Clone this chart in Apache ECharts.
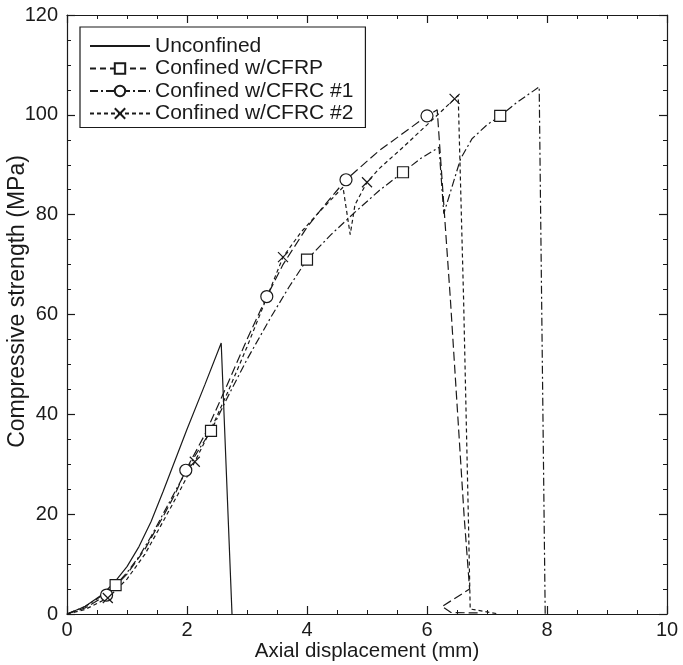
<!DOCTYPE html>
<html>
<head>
<meta charset="utf-8">
<script src="https://cdn.jsdelivr.net/npm/echarts@6/dist/echarts.min.js"></script>
<style>
html,body{margin:0;padding:0;background:#fff;}
#c{width:683px;height:665px;}
</style>
</head>
<body>
<div id="c"></div>
<script>
// ---- Data ----
const seriesNames = ['Unconfined', 'Confined w/CFRP', 'Confined w/CFRC #1', 'Confined w/CFRC #2'];

const unconfX = [0, 0.3, 0.6, 0.8, 1.0, 1.2, 1.4, 1.6, 2.0, 2.3, 2.57, 2.6, 2.75];
const unconfY = [0, 1.5, 4, 6.5, 9.5, 13.5, 18.5, 24.5, 37, 46, 54.3, 54.3, 0];

const cfrpX = [0, 0.3, 0.5, 0.81, 1.0, 1.2, 1.4, 1.6, 1.8, 2.0, 2.2, 2.4, 2.7, 3.0, 3.4, 3.7, 4.0, 4.4, 4.8, 5.2, 5.6, 5.9, 6.2, 6.28, 6.56, 6.75, 7.0, 7.22, 7.5, 7.87, 7.97];
const cfrpY = [0, 1.5, 3, 5.8, 8.3, 11.5, 15.5, 20, 24.5, 29, 33, 36.7, 44, 51, 59.5, 65.5, 71, 76, 80.5, 84.8, 88.5, 91.3, 93.5, 80.2, 91.2, 95.2, 98, 99.8, 102.5, 105.6, 0];

const cfrc1X = [0, 0.3, 0.66, 1.0, 1.3, 1.6, 1.8, 1.98, 2.3, 2.6, 3.0, 3.33, 3.6, 4.0, 4.3, 4.65, 5.2, 5.6, 6.0, 6.17, 6.39, 6.62, 6.71, 6.25, 6.4, 6.9];
const cfrc1Y = [0, 1.2, 3.8, 8, 13, 19.5, 24, 28.8, 36, 44, 55, 63.6, 70, 77.5, 82, 87, 92.8, 96.3, 99.8, 101, 63, 19.4, 5, 1.5, 0.3, 0.2];

const cfrc2X = [0, 0.3, 0.68, 1.0, 1.3, 1.6, 1.85, 2.13, 2.4, 2.7, 3.0, 3.3, 3.6, 3.9, 4.2, 4.6, 4.72, 4.8, 5.0, 5.2, 5.6, 6.0, 6.46, 6.52, 6.61, 6.69, 6.72, 7.2];
const cfrc2Y = [0, 0.9, 3.2, 7, 12, 18.5, 24, 30.5, 37, 45, 53.5, 62.5, 71.5, 76.5, 80.5, 85.5, 76, 82, 86.5, 89.2, 93.5, 98, 103.2, 103.9, 63, 19, 1, 0];

// marker positions
const cfrpMarkX = [0.81, 2.4, 4.0, 5.6, 7.22];
const cfrpMarkY = [5.8, 36.7, 71, 88.5, 99.8];
const cfrc1MarkX = [0.66, 1.98, 3.33, 4.65, 6.0];
const cfrc1MarkY = [3.8, 28.8, 63.6, 87, 99.8];
const cfrc2MarkX = [0.68, 2.13, 3.6, 5.0, 6.46];
const cfrc2MarkY = [3.2, 30.5, 71.5, 86.5, 103.2];

const xTicks = [0, 2, 4, 6, 8, 10];
const yTicks = [0, 20, 40, 60, 80, 100, 120];

// ---- Build chart ----
const zip = (xs, ys) => xs.map((x, i) => [x, ys[i]]);
const FONT = '"Liberation Sans", Arial, Helvetica, sans-serif';
const INK = '#1a1a1a';
const CROSS = 'path://M0,0L10,10M10,0L0,10';
const CLEAR = 'rgba(0,0,0,0)';

const dashDot = [8, 3, 2, 3];
const longDash = [9, 4];
const shortDash = [4, 3];

function lineSeries(name, data, dash, symbol) {
  return {
    name: name, type: 'line', data: data, showSymbol: false, symbol: symbol, symbolSize: 11,
    lineStyle: { color: INK, width: 1.2, type: dash },
    itemStyle: { color: '#fff', borderColor: INK, borderWidth: 1.2, opacity: 1 },
    emphasis: { disabled: true }, animation: false, z: 3
  };
}
function markSeries(name, data, symbol, size) {
  return {
    name: name, type: 'scatter', data: data, symbol: symbol, symbolSize: size,
    itemStyle: { color: symbol === CROSS ? 'none' : '#fff', borderColor: INK, borderWidth: 1.2, opacity: 1 },
    emphasis: { disabled: true }, animation: false, z: 5
  };
}

const axisCommon = {
  axisLine: { show: true, onZero: false, lineStyle: { color: INK, width: 1.2 } },
  axisTick: { show: true, inside: true, length: 8, lineStyle: { color: INK, width: 1.2 } },
  minorTick: { show: true, splitNumber: 4, length: 4, lineStyle: { color: INK, width: 1 } },
  splitLine: { show: false }
};

const chart = echarts.init(document.getElementById('c'), null, { renderer: 'canvas' });
chart.setOption({
  backgroundColor: '#fff',
  animation: false,
  grid: { left: 67, right: 16, top: 15, bottom: 51, containLabel: false, outerBoundsMode: 'none' },
  xAxis: [
    Object.assign({
      type: 'value', min: xTicks[0], max: xTicks[xTicks.length - 1], interval: xTicks[1] - xTicks[0],
      name: 'Axial displacement (mm)', nameLocation: 'middle', nameGap: 27, nameMoveOverlap: false,
      nameTextStyle: { fontFamily: FONT, fontSize: 20.5, color: INK },
      axisLabel: { fontFamily: FONT, fontSize: 20, color: INK, margin: 6 }
    }, axisCommon),
    Object.assign({
      type: 'value', position: 'top', min: xTicks[0], max: xTicks[xTicks.length - 1], interval: xTicks[1] - xTicks[0],
      axisLabel: { show: false }
    }, axisCommon)
  ],
  yAxis: [
    Object.assign({
      type: 'value', min: yTicks[0], max: yTicks[yTicks.length - 1], interval: yTicks[1] - yTicks[0],
      name: 'Compressive strength (MPa)', nameLocation: 'middle', nameGap: 38, nameMoveOverlap: false,
      nameTextStyle: { fontFamily: FONT, fontSize: 23, color: INK, padding: [0, 0, 0, 26] },
      axisLabel: { fontFamily: FONT, fontSize: 20, color: INK, margin: 9 }
    }, axisCommon),
    Object.assign({
      type: 'value', position: 'right', min: yTicks[0], max: yTicks[yTicks.length - 1], interval: yTicks[1] - yTicks[0],
      axisLabel: { show: false }
    }, axisCommon)
  ],
  legend: {
    orient: 'vertical', left: 80, top: 27,
    padding: [8, 12, 3, 9],
    backgroundColor: '#fff', borderColor: INK, borderWidth: 1.2, borderRadius: 0,
    itemWidth: 60, itemHeight: 13, itemGap: 0.5, itemTextGap: 4,
    textStyle: { fontFamily: FONT, fontSize: 21, color: INK, lineHeight: 22 },
    data: [
      { name: seriesNames[0], lineStyle: { type: 'solid' }, itemStyle: { color: CLEAR, borderColor: CLEAR, borderWidth: 0 } },
      { name: seriesNames[1], lineStyle: { type: [6, 4] } },
      { name: seriesNames[2], lineStyle: { type: dashDot } },
      { name: seriesNames[3], lineStyle: { type: shortDash } }
    ],
    selectedMode: false
  },
  series: [
    lineSeries(seriesNames[0], zip(unconfX, unconfY), 'solid', 'none'),
    lineSeries(seriesNames[1], zip(cfrpX, cfrpY), dashDot, 'rect'),
    lineSeries(seriesNames[2], zip(cfrc1X, cfrc1Y), longDash, 'circle'),
    lineSeries(seriesNames[3], zip(cfrc2X, cfrc2Y), shortDash, CROSS),
    markSeries('m1', zip(cfrpMarkX, cfrpMarkY), 'rect', 11),
    markSeries('m2', zip(cfrc1MarkX, cfrc1MarkY), 'circle', 12),
    markSeries('m3', zip(cfrc2MarkX, cfrc2MarkY), CROSS, 10)
  ]
});
</script>
</body>
</html>
